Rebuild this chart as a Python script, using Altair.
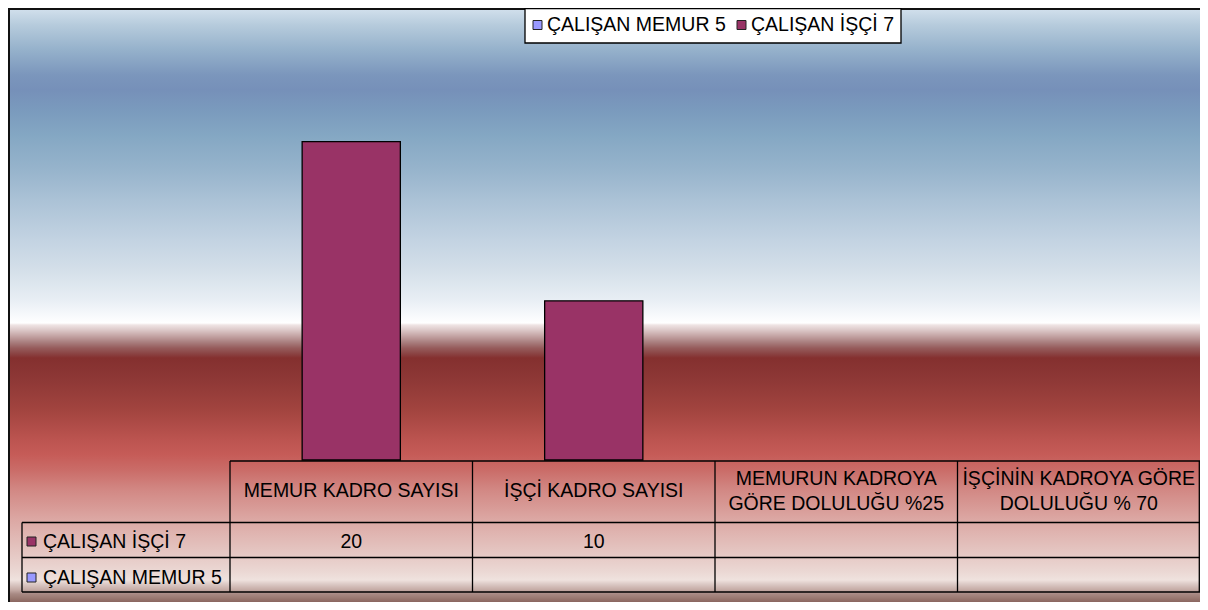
import altair as alt
import pandas as pd

# ---- data ----
categories = [
    "MEMUR KADRO SAYISI",
    "İŞÇİ KADRO SAYISI",
    "MEMURUN KADROYA GÖRE DOLULUĞU %25",
    "İŞÇİNİN KADROYA GÖRE DOLULUĞU  % 70",
]
header_labels = [
    "MEMUR KADRO SAYISI",
    "İŞÇİ KADRO SAYISI",
    "MEMURUN KADROYA\nGÖRE DOLULUĞU %25",
    "İŞÇİNİN KADROYA GÖRE\nDOLULUĞU  % 70",
]
series_names = ["ÇALIŞAN MEMUR 5", "ÇALIŞAN İŞÇİ 7"]
series_colors = ["#9999ff", "#993366"]
memur_values = [None, None, None, None]
isci_values = [20, 10, None, None]

W, H = 970, 398
FONT = "Liberation Sans"
FS = 19.5

xscale = alt.Scale(domain=categories, paddingInner=0, paddingOuter=0)
X = alt.X("cat:N", sort=categories, scale=xscale, axis=None)
one = pd.DataFrame({"a": [0]})

# ---- background gradient (page y -> colour) ----
stops_y = [8, 25, 50, 75, 90, 110, 135, 170, 200, 240, 270, 300, 318, 323, 325, 330, 336,
           342, 348, 354, 358, 380, 410, 440, 455, 470, 490, 520, 550, 572, 580, 584, 590,
           594, 598, 602]
stops_c = ["#d3e1ed", "#b6cbdc", "#95b1cb", "#7b96bc", "#7690b9", "#7a9abd", "#84a7c3",
           "#97b4cc", "#abc2d6", "#c3d3e2", "#d4dfe9", "#e8eef4", "#fafbfd", "#ffffff",
           "#efe4e4", "#dcc8c8", "#c4a4a4", "#aa8080", "#965c5c", "#8a4242", "#84302f",
           "#8e3836", "#a2443f", "#bc5450", "#c65c58", "#ca6c68", "#d28884", "#dca8a4",
           "#e4c4c0", "#ebd8d4", "#efe2de", "#dccac6", "#c4aaa4", "#a88a84", "#9a7a72",
           "#8a6660"]
grad = alt.Gradient(
    gradient="linear",
    stops=[alt.GradientStop(color=c, offset=(y - 8) / 594) for y, c in zip(stops_y, stops_c)],
    x1=0, x2=0, y1=0, y2=1,
)
bg = alt.Chart(one).mark_rect(fill=grad).encode(
    x=alt.value(-222), x2=alt.value(970), y=alt.value(-54), y2=alt.value(540)
)
border_top = alt.Chart(one).mark_rule(color="#111111", strokeWidth=2).encode(
    x=alt.value(-222), x2=alt.value(970), y=alt.value(-53)
)
border_left = alt.Chart(one).mark_rule(color="#111111", strokeWidth=2).encode(
    x=alt.value(-221), y=alt.value(-54), y2=alt.value(540)
)

# ---- bars ----
bars_df = pd.DataFrame({"cat": categories, "value": isci_values}).dropna()
bars = alt.Chart(bars_df).mark_bar(
    color=series_colors[1], stroke="#000000", strokeWidth=1.3, width={"band": 0.405}
).encode(
    x=X,
    y=alt.Y("value:Q", scale=alt.Scale(domain=[0, 25]), axis=None),
)

# ---- data table ----
cat_df = pd.DataFrame({"cat": categories, "header": header_labels})
cat_df["nlines"] = cat_df["header"].str.count("\n") + 1
LW = 1.3
vlines = alt.Chart(cat_df).mark_rule(color="#000000", strokeWidth=LW).encode(
    x=alt.X("cat:N", sort=categories, scale=xscale, axis=None, bandPosition=0),
    y=alt.value(399), y2=alt.value(530),
)
vline_right = alt.Chart(one).mark_rule(color="#000000", strokeWidth=LW).encode(
    x=alt.value(969.3), y=alt.value(399), y2=alt.value(530)
)
vline_left = alt.Chart(one).mark_rule(color="#000000", strokeWidth=LW).encode(
    x=alt.value(-208), y=alt.value(460.5), y2=alt.value(530)
)
h_top = alt.Chart(one).mark_rule(color="#000000", strokeWidth=LW).encode(
    x=alt.value(0), x2=alt.value(970), y=alt.value(399)
)
h_rows = [
    alt.Chart(one).mark_rule(color="#000000", strokeWidth=LW).encode(
        x=alt.value(-208), x2=alt.value(970), y=alt.value(yy)
    )
    for yy in (460.5, 495.5, 530)
]

header_layers = []
for n, ypos in [(1, 429.0), (2, 417.3)]:
    header_layers.append(
        alt.Chart(cat_df[cat_df["nlines"] == n]).mark_text(
            font=FONT, fontSize=FS, color="#000000", align="center", baseline="middle",
            lineBreak="\n", lineHeight=25,
        ).encode(x=X, y=alt.value(ypos), text="header:N")
    )

row_isci_df = pd.DataFrame({"cat": categories, "value": isci_values}).dropna()
row_isci_df["label"] = row_isci_df["value"].astype(int).astype(str)
row_isci_text = alt.Chart(row_isci_df).mark_text(
    font=FONT, fontSize=FS, color="#000000", align="center", baseline="middle"
).encode(x=X, y=alt.value(480), text="label:N")

row_label_df = pd.DataFrame({
    "name": [series_names[1], series_names[0]],
    "color": [series_colors[1], series_colors[0]],
    "ypos": [480, 516],
})
row_labels = []
for i in range(2):
    d = row_label_df.iloc[[i]]
    yy = float(d["ypos"].iloc[0])
    row_labels.append(
        alt.Chart(d).mark_rect(stroke="#222222", strokeWidth=1).encode(
            x=alt.value(-203), x2=alt.value(-194), y=alt.value(yy - 5), y2=alt.value(yy + 4),
            fill=alt.Fill("color:N", scale=None),
        )
    )
    row_labels.append(
        alt.Chart(d).mark_text(
            font=FONT, fontSize=FS, color="#000000", align="left", baseline="middle"
        ).encode(x=alt.value(-187), y=alt.value(yy), text="name:N")
    )

# ---- legend box ----
legend_box = alt.Chart(one).mark_rect(fill="#ffffff", stroke="#000000", strokeWidth=1.3).encode(
    x=alt.value(295), x2=alt.value(671), y=alt.value(-53.3), y2=alt.value(-19)
)
leg_df = pd.DataFrame({"name": series_names, "color": series_colors})
legend_items = []
for i, (sx, tx) in enumerate([(303, 317), (507, 521)]):
    d = leg_df.iloc[[i]]
    legend_items.append(
        alt.Chart(d).mark_rect(stroke="#222222", strokeWidth=1).encode(
            x=alt.value(sx), x2=alt.value(sx + 9), y=alt.value(-41.5), y2=alt.value(-32.5),
            fill=alt.Fill("color:N", scale=None),
        )
    )
    legend_items.append(
        alt.Chart(d).mark_text(
            font=FONT, fontSize=FS, color="#000000", align="left", baseline="middle"
        ).encode(x=alt.value(tx), y=alt.value(-37), text="name:N")
    )

chart = alt.layer(
    bg, border_top, border_left,
    bars,
    vlines, vline_right, vline_left, h_top, *h_rows,
    *header_layers, row_isci_text, *row_labels,
    legend_box, *legend_items,
).properties(
    width=W, height=H,
    padding={"left": 222, "top": 54, "right": 0, "bottom": 142},
    autosize=alt.AutoSizeParams(type="none"),
).configure_view(stroke=None).configure(background="#ffffff")

chart.save("out.html", embed_options={"renderer": "svg", "actions": False})
